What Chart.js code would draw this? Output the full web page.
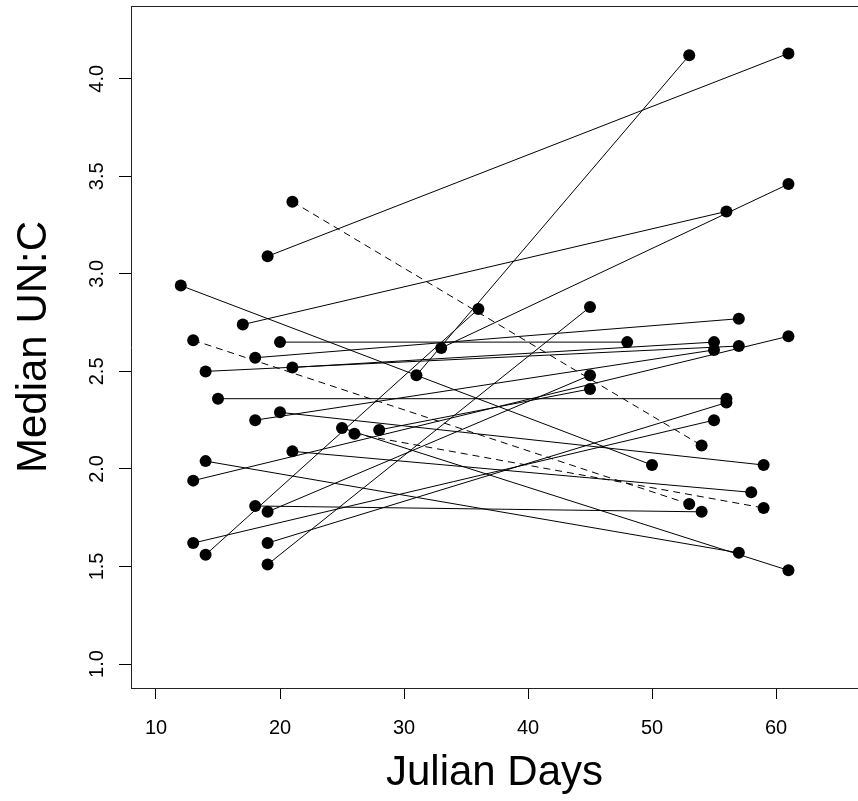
<!DOCTYPE html>
<html><head><meta charset="utf-8">
<script src="https://cdn.jsdelivr.net/npm/chart.js@4"></script>
<style>html,body{margin:0;padding:0;background:#fff;} #wrap{width:858px;height:801px;}</style>
</head><body><div id="wrap"><canvas id="c" width="858" height="801"></canvas></div>
<script>
// Each entry is one site: early sampling -> late sampling
const startDay = [19, 21, 17, 18, 20, 12, 14, 13, 26, 15, 19, 13, 20, 25, 21, 18, 19, 19, 31, 33, 14, 28, 13, 14, 21, 18];
const startVal = [3.09, 3.37, 2.74, 2.57, 2.65, 2.94, 2.04, 2.66, 2.18, 2.36, 1.62, 1.62, 2.29, 2.21, 2.09, 1.81, 1.51, 1.78, 2.48, 2.62, 1.56, 2.20, 1.94, 2.50, 2.52, 2.25];
const endDay   = [61, 54, 56, 57, 48, 50, 57, 53, 59, 56, 56, 55, 59, 61, 58, 54, 45, 45, 53, 61, 36, 45, 61, 57, 55, 55];
const endVal   = [4.13, 2.12, 3.32, 2.77, 2.65, 2.02, 1.57, 1.82, 1.80, 2.36, 2.34, 2.25, 2.02, 1.48, 1.88, 1.78, 2.83, 2.48, 4.12, 3.46, 2.82, 2.41, 2.68, 2.63, 2.65, 2.61];
const dashed   = [0, 1, 0, 0, 0, 0, 0, 1, 1, 0, 0, 0, 0, 0, 0, 0, 0, 0, 0, 0, 0, 0, 0, 0, 0, 0];
const xTicks = [10, 20, 30, 40, 50, 60];
const yTicks = [1.0, 1.5, 2.0, 2.5, 3.0, 3.5, 4.0];
const yTickLabels = ['1.0', '1.5', '2.0', '2.5', '3.0', '3.5', '4.0'];
const xTickLabels = ['10', '20', '30', '40', '50', '60'];

function build(flag) {
  const d = [];
  for (let i = 0; i < startDay.length; i++) {
    if (dashed[i] !== flag) continue;
    d.push({x: startDay[i], y: startVal[i]});
    d.push({x: endDay[i], y: endVal[i]});
    d.push({x: endDay[i], y: null});
  }
  return d;
}

Chart.defaults.font.family = '"Liberation Sans", Arial, sans-serif';
Chart.defaults.color = '#000';

const XMIN = 7.984, XMAX = 66.61, YMIN = 0.877, YMAX = 4.373;
const common = {showLine: true, borderColor: '#000', borderWidth: 1, pointRadius: 6, pointHoverRadius: 6,
  pointBackgroundColor: '#000', pointBorderColor: '#000', pointBorderWidth: 0, spanGaps: false};
const noPad = s => { s.paddingTop = 0; s.paddingBottom = 0; s.paddingLeft = 0; s.paddingRight = 0; };

new Chart(document.getElementById('c'), {
  type: 'scatter',
  data: {datasets: [
    Object.assign({data: build(0)}, common),
    Object.assign({data: build(1), borderDash: [7, 5]}, common)
  ]},
  options: {
    responsive: false, animation: false, devicePixelRatio: 1,
    layout: {autoPadding: false, padding: {top: 6, right: 0, bottom: 0, left: 0}},
    plugins: {legend: {display: false}, tooltip: {enabled: false}},
    events: [],
    scales: {
      x: {
        type: 'linear', position: 'bottom', min: XMIN, max: XMAX,
        afterBuildTicks: s => { s.ticks = xTicks.map(v => ({value: v})); },
        afterFit: s => { s.height = 113; noPad(s); },
        grid: {display: true, drawOnChartArea: false, drawTicks: true, tickLength: 11, color: '#000', lineWidth: 1},
        border: {display: true, color: '#222', width: 1},
        ticks: {font: {size: 20}, padding: 17, color: '#000', maxRotation: 0, autoSkip: false,
          callback: (v, i) => xTickLabels[i]},
        title: {display: true, text: 'Julian Days', font: {size: 42}, color: '#000', padding: {top: 0, bottom: 2}}
      },
      x2: {
        type: 'linear', position: 'top', min: XMIN, max: XMAX,
        afterFit: s => { s.height = 0; noPad(s); },
        grid: {display: false},
        ticks: {display: false},
        border: {display: true, color: '#222', width: 1}
      },
      y: {
        type: 'linear', position: 'left', min: YMIN, max: YMAX,
        afterBuildTicks: s => { s.ticks = yTicks.map(v => ({value: v})); },
        afterFit: s => { s.width = 131; noPad(s); },
        grid: {display: true, drawOnChartArea: false, drawTicks: true, tickLength: 12, color: '#000', lineWidth: 1},
        border: {display: true, color: '#222', width: 1},
        ticks: {font: {size: 20}, padding: 8, color: '#000', minRotation: 90, maxRotation: 90, crossAlign: 'center', autoSkip: false,
          callback: (v, i) => yTickLabels[i]},
        title: {display: true, text: 'Median UN:C', font: {size: 42}, color: '#000', padding: {top: 9, bottom: 0}}
      }
    }
  }
});
</script>
</body></html>
